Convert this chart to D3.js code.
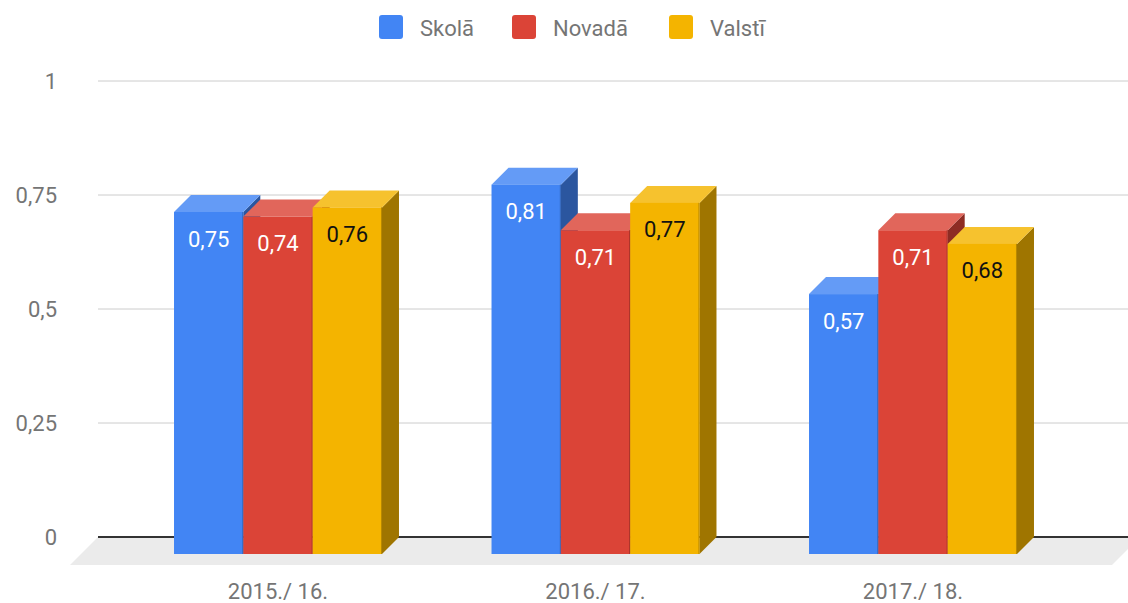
<!DOCTYPE html>
<html>
<head>
<meta charset="utf-8">
<script src="https://cdn.jsdelivr.net/npm/d3@7"></script>
<style>
  html, body { margin: 0; padding: 0; background: #fff; }
  svg { display: block; font-family: Roboto, "Noto Sans", sans-serif; }
</style>
</head>
<body>
<svg id="chart" width="1128" height="603"></svg>
<script>
const categories = ["2015./ 16.", "2016./ 17.", "2017./ 18."];
const seriesNames = ["Skolā", "Novadā", "Valstī"];
const skola = [0.75, 0.81, 0.57];
const novada = [0.74, 0.71, 0.71];
const valsti = [0.76, 0.77, 0.68];
const yTicks = [0, 0.25, 0.5, 0.75, 1];
const yTickLabels = ["0", "0,25", "0,5", "0,75", "1"];
const valueLabels = [
  ["0,75", "0,81", "0,57"],
  ["0,74", "0,71", "0,71"],
  ["0,76", "0,77", "0,68"]
];
const colors = ["#4285f4", "#db4437", "#f4b400"];
const labelColors = ["#ffffff", "#ffffff", "#111111"];

const seriesValues = [skola, novada, valsti];

const svg = d3.select("#chart");
const W = 1128, H = 603;
const depth = 17;          // 3D offset of bars
const floorDepth = 28;     // 3D depth of floor
const backLeft = 98, backRight = 1140;

const y = d3.scaleLinear().domain([0, 1]).range([537, 81]);
const x0 = d3.scaleBand().domain(categories).range([119.25, 1071.75])
  .paddingInner(0.345).paddingOuter(0.1725);
const x1 = d3.scaleBand().domain(seriesNames).range([0, x0.bandwidth()]).padding(0);

function shade(c, k) { const r = d3.rgb(c); return d3.rgb(r.r * k, r.g * k, r.b * k).formatHex(); }
function tint(c, t) { return d3.interpolateRgb(c, "#ffffff")(t); }

// floor
svg.append("polygon")
  .attr("points", [[backLeft, y(0)], [backRight, y(0)], [backRight - floorDepth, y(0) + floorDepth], [backLeft - floorDepth, y(0) + floorDepth]].map(p => p.join(",")).join(" "))
  .attr("fill", "#ebebeb");

// gridlines
svg.append("g").selectAll("line").data(yTicks.filter(t => t > 0)).join("line")
  .attr("x1", backLeft).attr("x2", W)
  .attr("y1", d => y(d)).attr("y2", d => y(d))
  .attr("stroke", "#cccccc").attr("stroke-width", 1);

// baseline
svg.append("line").attr("x1", backLeft).attr("x2", W)
  .attr("y1", y(0)).attr("y2", y(0))
  .attr("stroke", "#333333").attr("stroke-width", 2);

// y axis labels
svg.append("g").selectAll("text").data(yTicks).join("text")
  .attr("x", 57).attr("y", d => y(d))
  .attr("text-anchor", "end").attr("dominant-baseline", "central")
  .attr("fill", "#757575").attr("font-size", 22)
  .text((d, i) => yTickLabels[i]);

// bars
const bars = [];
categories.forEach((c, ci) => {
  seriesNames.forEach((s, si) => {
    bars.push({ c, ci, s, si, v: seriesValues[si][ci] });
  });
});

const gBars = svg.append("g");
bars.forEach(b => {
  const xl = x0(b.c) + x1(b.s);
  const w = x1.bandwidth();
  const yt = y(b.v) + depth, yb = y(0) + depth;
  const g = gBars.append("g");
  // side face
  g.append("polygon")
    .attr("points", [[xl + w, yt], [xl + w + depth, yt - depth], [xl + w + depth, yb - depth], [xl + w, yb]].map(p => p.join(",")).join(" "))
    .attr("fill", shade(colors[b.si], 0.65));
  // top face
  g.append("polygon")
    .attr("points", [[xl, yt], [xl + depth, yt - depth], [xl + w + depth, yt - depth], [xl + w, yt]].map(p => p.join(",")).join(" "))
    .attr("fill", tint(colors[b.si], 0.18));
  // front face
  g.append("rect")
    .attr("x", xl).attr("y", yt).attr("width", w).attr("height", yb - yt)
    .attr("fill", colors[b.si]);
  g.append("line")
    .attr("x1", xl + w - 0.5).attr("x2", xl + w - 0.5).attr("y1", yt).attr("y2", yb)
    .attr("stroke", shade(colors[b.si], 0.75)).attr("stroke-width", 1);
  // value label
  g.append("text")
    .attr("x", xl + w / 2).attr("y", yt + 27)
    .attr("text-anchor", "middle").attr("dominant-baseline", "central")
    .attr("fill", labelColors[b.si]).attr("font-size", 22)
    .text(valueLabels[b.si][b.ci]);
});

// x axis labels
svg.append("g").selectAll("text").data(categories).join("text")
  .attr("x", d => x0(d) + x0.bandwidth() / 2).attr("y", 591)
  .attr("text-anchor", "middle").attr("dominant-baseline", "central")
  .attr("fill", "#757575").attr("font-size", 22)
  .text(d => d);

// legend
const legendX = [379, 512, 669];
const lg = svg.append("g");
seriesNames.forEach((s, i) => {
  lg.append("rect").attr("x", legendX[i]).attr("y", 15).attr("width", 24).attr("height", 24)
    .attr("rx", 3).attr("fill", colors[i]);
  lg.append("text").attr("x", legendX[i] + 41).attr("y", 28)
    .attr("dominant-baseline", "central")
    .attr("fill", "#757575").attr("font-size", 22)
    .text(s);
});
</script>
</body>
</html>
